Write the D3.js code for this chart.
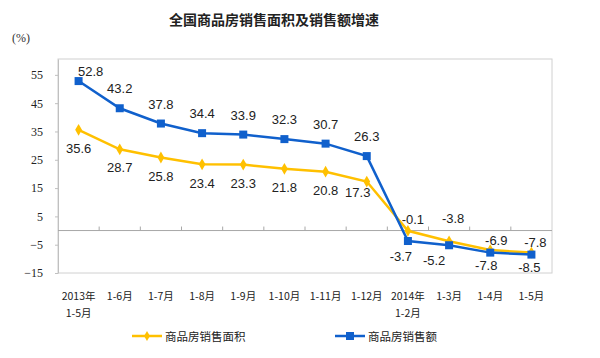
<!DOCTYPE html>
<html>
<head>
<meta charset="utf-8">
<script src="https://cdn.jsdelivr.net/npm/d3@7"></script>
<style>
  body { margin: 0; background: #fff; }
  svg { display: block; }
</style>
</head>
<body>
<svg id="chart" width="600" height="358"></svg>
<script>
// categories (two-line labels)
var categories = [
  ["2013年", "1-5月"], ["1-6月"], ["1-7月"], ["1-8月"], ["1-9月"], ["1-10月"],
  ["1-11月"], ["1-12月"], ["2014年", "1-2月"], ["1-3月"], ["1-4月"], ["1-5月"]
];
var areaGrowth = [35.6, 28.7, 25.8, 23.4, 23.3, 21.8, 20.8, 17.3, -0.1, -3.8, -6.9, -7.8];
var salesGrowth = [52.8, 43.2, 37.8, 34.4, 33.9, 32.3, 30.7, 26.3, -3.7, -5.2, -7.8, -8.5];
var yTicks = [55, 45, 35, 25, 15, 5, -5, -15];
var seriesNames = ["商品房销售面积", "商品房销售额"];

var yellow = "#FFC000";
var blue = "#1060CC";

var svg = d3.select("#chart");
var plotL = 58, plotR = 552, plotT = 59, plotB = 273;

var x = d3.scaleBand().domain(d3.range(categories.length)).range([plotL, plotR]);
var y = d3.scaleLinear().domain([-15, 60.6]).range([plotB, plotT]);

// title
svg.append("text")
  .attr("x", 274).attr("y", 25)
  .attr("text-anchor", "middle")
  .attr("font-family", "Noto Sans CJK SC")
  .attr("font-size", 14)
  .attr("font-weight", "bold")
  .attr("fill", "#222")
  .text("全国商品房销售面积及销售额增速");

svg.append("text")
  .attr("x", 12).attr("y", 42)
  .attr("font-family", "Liberation Serif")
  .attr("font-size", 12)
  .attr("fill", "#333")
  .text("(%)");

// plot frame
svg.append("rect")
  .attr("x", plotL).attr("y", plotT)
  .attr("width", plotR - plotL).attr("height", plotB - plotT)
  .attr("fill", "none")
  .attr("stroke", "#d0d0d0");

// y axis
var yAxis = d3.axisLeft(y).tickValues(yTicks).tickSize(3).tickSizeOuter(0);
var gy = svg.append("g").attr("transform", "translate(" + plotL + ",0)").call(yAxis);
gy.attr("font-family", null);
gy.select(".domain").attr("stroke", "#c0c0c0");
gy.selectAll("line").attr("stroke", "#c0c0c0");
gy.selectAll("text")
  .attr("x", -15)
  .attr("font-family", "Liberation Serif")
  .attr("font-size", 12)
  .attr("fill", "#222");

// zero line with category ticks
svg.append("line")
  .attr("x1", plotL).attr("x2", plotR)
  .attr("y1", y(0)).attr("y2", y(0))
  .attr("stroke", "#a8a8a8");
svg.append("g").selectAll("line")
  .data(d3.range(1, categories.length))
  .join("line")
  .attr("x1", function (d) { return x(d); })
  .attr("x2", function (d) { return x(d); })
  .attr("y1", y(0)).attr("y2", y(0) - 4)
  .attr("stroke", "#a8a8a8");

// x labels
var xl = svg.append("g").selectAll("text")
  .data(categories)
  .join("text")
  .attr("text-anchor", "middle")
  .attr("font-family", "Noto Sans CJK SC")
  .attr("font-size", 10.5)
  .attr("fill", "#222");
xl.each(function (d, i) {
  var t = d3.select(this);
  d.forEach(function (s, k) {
    t.append("tspan")
      .attr("x", x(i) + x.bandwidth() / 2)
      .attr("y", 300 + k * 17)
      .text(s);
  });
});

var cx = function (d, i) { return x(i) + x.bandwidth() / 2; };

var line = d3.line().x(cx).y(function (d) { return y(d); });

// area line (yellow)
svg.append("path").datum(areaGrowth)
  .attr("fill", "none").attr("stroke", yellow).attr("stroke-width", 2.5)
  .attr("d", line);
svg.append("g").selectAll("path")
  .data(areaGrowth).join("path")
  .attr("d", d3.symbol(d3.symbolDiamond, 40))
  .attr("transform", function (d, i) { return "translate(" + cx(d, i) + "," + y(d) + ")"; })
  .attr("fill", yellow);

// sales line (blue)
svg.append("path").datum(salesGrowth)
  .attr("fill", "none").attr("stroke", blue).attr("stroke-width", 2.5)
  .attr("d", line);
svg.append("g").selectAll("rect")
  .data(salesGrowth).join("rect")
  .attr("x", function (d, i) { return cx(d, i) - 4; })
  .attr("y", function (d) { return y(d) - 4; })
  .attr("width", 8).attr("height", 8)
  .attr("fill", blue);

// label placement (offset of text centre from the point), hand-tuned like the original
var salesNudge = { 0: [12, -10], 8: [-7, 15], 9: [-15, 15], 10: [-4, 13], 11: [-2, 13] };
var areaNudge = { 7: [-9, 11], 8: [5, -12], 9: [4, -23], 10: [6, -10], 11: [4, -10] };

function labels(data, nudge, dflt) {
  svg.append("g").selectAll("text")
    .data(data).join("text")
    .attr("x", function (d, i) { return cx(d, i) + (nudge[i] ? nudge[i][0] : dflt[0]); })
    .attr("y", function (d, i) { return y(d) + (nudge[i] ? nudge[i][1] : dflt[1]) + 4.7; })
    .attr("text-anchor", "middle")
    .attr("font-family", "Liberation Sans")
    .attr("font-size", 13)
    .attr("fill", "#222")
    .text(function (d) { return d.toFixed(1); });
}
labels(salesGrowth, salesNudge, [0, -19.5]);
labels(areaGrowth, areaNudge, [0, 18.5]);

// legend
var legend = [
  { name: seriesNames[0], color: yellow, x: 132, marker: "diamond" },
  { name: seriesNames[1], color: blue, x: 335, marker: "square" }
];
legend.forEach(function (l) {
  var g = svg.append("g");
  g.append("line")
    .attr("x1", l.x).attr("x2", l.x + 30)
    .attr("y1", 336).attr("y2", 336)
    .attr("stroke", l.color).attr("stroke-width", 2.5);
  if (l.marker == "diamond") {
    g.append("path")
      .attr("d", d3.symbol(d3.symbolDiamond, 30))
      .attr("transform", "translate(" + (l.x + 15) + ",336)")
      .attr("fill", l.color);
  } else {
    g.append("rect")
      .attr("x", l.x + 11).attr("y", 332)
      .attr("width", 8).attr("height", 8)
      .attr("fill", l.color);
  }
  g.append("text")
    .attr("x", l.x + 33).attr("y", 340.5)
    .attr("font-family", "Noto Sans CJK SC")
    .attr("font-size", 11.5)
    .attr("fill", "#222")
    .text(l.name);
});
</script>
</body>
</html>
